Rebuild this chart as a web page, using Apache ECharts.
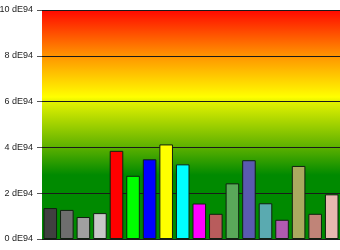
<!DOCTYPE html>
<html><head><meta charset="utf-8">
<script src="https://cdn.jsdelivr.net/npm/echarts@6/dist/echarts.min.js"></script>
<style>html,body{margin:0;padding:0;background:#fff}#c{width:340px;height:250px}</style>
</head><body><div id="c"></div>
<script>
const categories = ['1','2','3','4','5','6','7','8','9','10','11','12','13','14','15','16','17','18'];
const values = [1.35, 1.27, 0.96, 1.13, 3.85, 2.76, 3.48, 4.13, 3.26, 1.55, 1.10, 2.43, 3.44, 1.56, 0.84, 3.19, 1.10, 1.95];
const barColors = ['#404040','#6e6e6e','#a0a0a0','#c8c8c8','#ff0000','#00ff00','#0000ff','#ffff00','#00ffff','#ff00ff','#b85c5c','#5aa85a','#5a5ab0','#5aaab0','#b05ab0','#aaaa60','#c08478','#e8b8b0'];
const yTicks = [0, 2, 4, 6, 8, 10];
const yUnit = ' dE94';

const chart = echarts.init(document.getElementById('c'), null, {renderer:'canvas'});
chart.setOption({
  animation: false,
  grid: {
    left: 42, right: 0, top: 10, bottom: 11, show: true, borderWidth: 0,
    outerBoundsMode: 'none', containLabel: false,
    backgroundColor: {type:'linear', x:0, y:0, x2:0, y2:1, colorStops:[
      {offset:0, color:'#ff0800'},
      {offset:0.2, color:'#ff9400'},
      {offset:0.38, color:'#ffff00'},
      {offset:0.40, color:'#e4f200'},
      {offset:0.60, color:'#5cb000'},
      {offset:0.72, color:'#008a00'},
      {offset:1, color:'#008a00'}
    ]}
  },
  xAxis: {
    type: 'category', data: categories,
    axisLine: {show: false}, axisTick: {show: false}, axisLabel: {show: false}
  },
  yAxis: {
    type: 'value', min: yTicks[0], max: yTicks[yTicks.length-1], interval: 2,
    axisLine: {show: false},
    axisTick: {show: true, length: 5, lineStyle: {color: '#555'}},
    axisLabel: {margin: 9, fontSize: 9, color: '#222', fontFamily: 'Liberation Sans, Arial, sans-serif',
      formatter: v => v + yUnit},
    splitLine: {show: true, lineStyle: {color: '#1a1a1a', width: 1}}
  },
  series: [{
    type: 'bar',
    data: values.map((v, i) => ({value: v, itemStyle: {color: barColors[i]}})),
    barCategoryGap: '18%',
    itemStyle: {borderColor: '#102010', borderWidth: 1}
  }]
});
</script></body></html>
